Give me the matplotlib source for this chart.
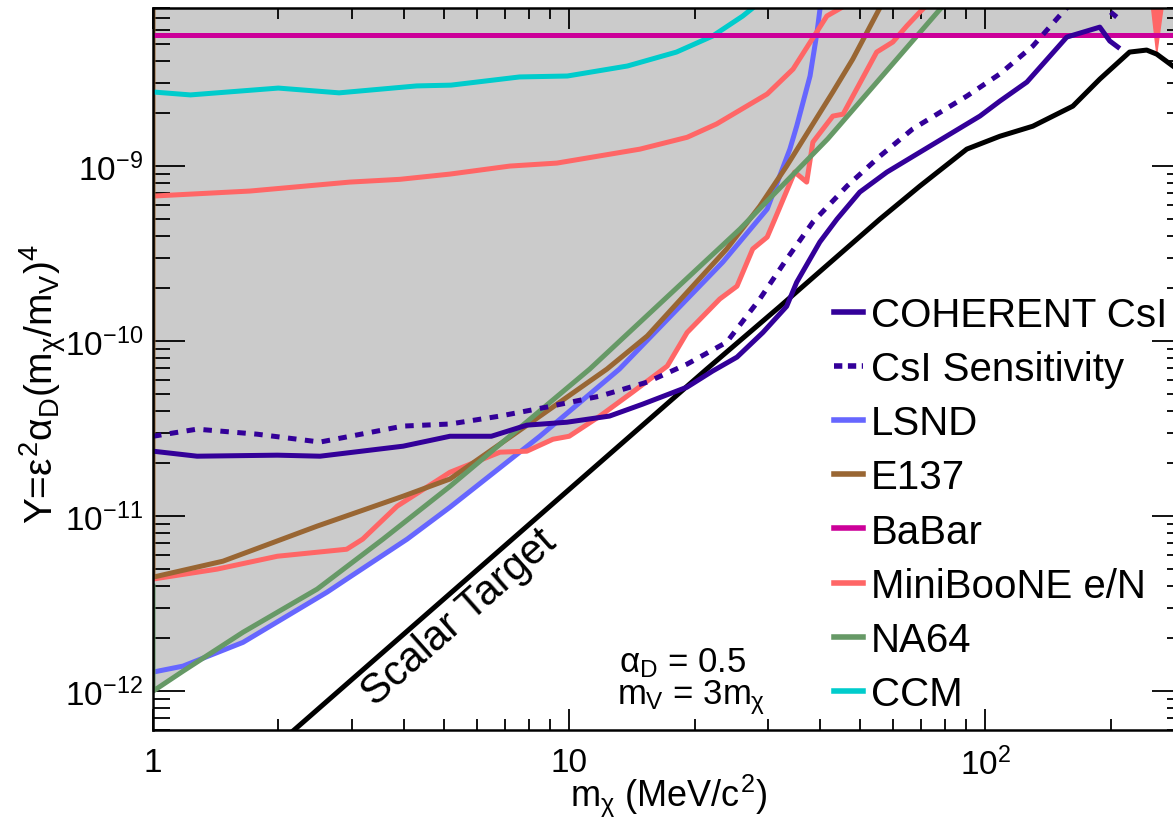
import numpy as np
import matplotlib.pyplot as plt
from matplotlib.lines import Line2D
from matplotlib.ticker import NullFormatter

plt.rcParams['font.family'] = 'Liberation Sans'
plt.rcParams['mathtext.fontset'] = 'custom'
plt.rcParams['mathtext.rm'] = 'Liberation Sans'
plt.rcParams['mathtext.it'] = 'Liberation Sans'
plt.rcParams['mathtext.sf'] = 'Liberation Sans'
plt.rcParams['mathtext.bf'] = 'Liberation Sans:bold'

# --- data (m_chi in MeV, Y) ---
babar_y = 5.6e-9

ccm_m = [1.0, 1.23, 2.0, 2.8, 4.3, 5.2, 7.6, 9.9, 13.8, 18.1, 22.1, 26.1, 28.5]
ccm_y = [2.65e-9, 2.55e-9, 2.79e-9, 2.62e-9, 2.87e-9, 2.9e-9, 3.23e-9, 3.27e-9,
         3.73e-9, 4.48e-9, 5.53e-9, 7.19e-9, 8.5e-9]

mbe_m = [1.0, 1.71, 2.97, 3.92, 5.17, 7.2, 9.34, 14.8, 19.2, 22.6, 29.9, 34.5, 41.6, 47.0]
mbe_y = [6.74e-10, 7.2e-10, 8.1e-10, 8.4e-10, 9.0e-10, 1.0e-9, 1.04e-9, 1.25e-9,
         1.46e-9, 1.74e-9, 2.58e-9, 3.58e-9, 7.2e-9, 8.5e-9]

mbn_m = [1.0, 1.425, 1.99, 2.92, 3.19, 3.86, 5.17, 6.82, 7.91, 9.14, 10.0, 11.85,
         14.2, 17.2, 19.2, 23.0, 25.3, 27.6, 29.9, 31.2, 34.8, 37.2, 38.5, 43.0,
         45.5, 54.8, 59.9, 64.7, 69.6, 73.0]
mbn_y = [4.37e-12, 4.98e-12, 5.9e-12, 6.47e-12, 7.39e-12, 1.14e-11, 1.78e-11,
         2.32e-11, 2.35e-11, 2.75e-11, 2.86e-11, 3.73e-11, 5.11e-11, 7.2e-11,
         1.12e-10, 1.74e-10, 2.06e-10, 3.36e-10, 3.93e-10, 4.98e-10, 9.24e-10,
         8.1e-10, 1.37e-9, 1.93e-9, 1.98e-9, 4.48e-9, 5.11e-9, 6.31e-9, 7.59e-9, 8.5e-9]

mb_spike_m = [250, 258, 268]
mb_spike_y = [8.5e-9, 4.4e-9, 8.5e-9]

lsnd_m = [1.0, 1.18, 1.645, 2.62, 2.92, 4.08, 5.17, 8.5, 13.2, 23.4, 29.9, 33.9,
          35.2, 37.9, 39.4, 40.2]
lsnd_y = [1.285e-12, 1.39e-12, 1.9e-12, 3.68e-12, 4.37e-12, 7.39e-12, 1.125e-11,
          2.86e-11, 6.92e-11, 2.83e-10, 5.68e-10, 1.25e-9, 1.69e-9, 3.27e-9,
          5.83e-9, 8.5e-9]

e137_m = [1.0, 1.0, 1.473, 2.48, 3.99, 5.17, 8.05, 12.32, 15.4, 23.9, 28.7, 33.3,
          43.0, 48.0, 56.5]
e137_y = [8.5e-9, 4.48e-12, 5.53e-12, 8.77e-12, 1.3e-11, 1.63e-11, 3.4e-11,
          6.92e-11, 1.07e-10, 3.36e-10, 5.9e-10, 1.0e-9, 2.65e-9, 4.08e-9, 8.5e-9]

na64_m = [1.0, 1.0, 1.18, 1.645, 2.48, 3.57, 5.17, 11.2, 25.7, 41.8, 80.0]
na64_y = [3.98e-12, 1.0e-12, 1.3e-12, 2.17e-12, 3.83e-12, 7.39e-12, 1.48e-11,
          6.92e-11, 4.36e-10, 1.43e-9, 8.5e-9]

csi_m = [1.0, 1.276, 1.99, 2.52, 3.99, 5.17, 6.5, 7.91, 9.87, 12.5, 15.0, 19.2,
         22.1, 25.3, 29.2, 33.3, 35.2, 40.0, 44.0, 49.9, 58.0, 69.6, 97.0, 108.3,
         125.8, 156.9, 188.3, 199.0, 208.0]
csi_y = [2.35e-11, 2.2e-11, 2.23e-11, 2.2e-11, 2.51e-11, 2.86e-11, 2.86e-11,
         3.31e-11, 3.44e-11, 3.73e-11, 4.36e-11, 5.46e-11, 6.74e-11, 8.1e-11,
         1.12e-10, 1.58e-10, 2.17e-10, 3.68e-10, 4.98e-10, 7.1e-10, 9.24e-10,
         1.2e-9, 1.93e-9, 2.35e-9, 3.02e-9, 5.46e-9, 6.22e-9, 5.18e-9, 4.79e-9]

sens_m = [1.0, 1.276, 1.777, 2.52, 3.99, 5.17, 6.82, 8.84, 11.85, 15.4, 19.2, 23.9,
          28.7, 33.3, 38.5, 46.5, 55.8, 66.9, 90.2, 108.3, 130.0, 153.5, 178.0,
          195.7, 206.8]
sens_y = [2.86e-11, 3.14e-11, 2.94e-11, 2.65e-11, 3.27e-11, 3.36e-11, 3.73e-11,
          4.2e-11, 4.85e-11, 5.83e-11, 7.39e-11, 9.86e-11, 1.74e-10, 2.94e-10,
          4.79e-10, 7.69e-10, 1.14e-9, 1.63e-9, 2.51e-9, 3.36e-9, 4.85e-9, 7.59e-9,
          1.1e-8, 7.9e-9, 7.1e-9]

scalar_m = [2.0, 21.4, 32.1, 55.8, 69.6, 90.2, 108.3, 130.0, 162.2, 188.3, 222.0,
            244.0, 258.0, 282.0, 300.0]
scalar_y = [5.0e-13, 6.92e-11, 1.58e-10, 4.98e-10, 7.69e-10, 1.25e-9, 1.48e-9,
            1.69e-9, 2.2e-9, 3.14e-9, 4.48e-9, 4.6e-9, 4.36e-9, 3.73e-9, 3.36e-9]

c_csi = '#330099'
c_lsnd = '#6666ff'
c_e137 = '#996633'
c_babar = '#cc0099'
c_mb = '#ff6666'
c_na64 = '#669966'
c_ccm = '#00cccc'

fig = plt.figure(figsize=(11.73, 8.2), dpi=100)
ax = fig.add_axes([153 / 1173, 89 / 820, 1031 / 1173, 722 / 820])
ax.set_xscale('log')
ax.set_yscale('log')
ax.set_xlim(1, 300)
ax.set_ylim(6e-13, 8e-9)

# excluded region = everything above the lowest existing limit
grid = np.logspace(0, np.log10(300), 3000)
env = np.full_like(grid, babar_y)
for mm, yy in [(ccm_m, ccm_y), (mbe_m, mbe_y), (mbn_m, mbn_y), (lsnd_m, lsnd_y),
               (e137_m[1:], e137_y[1:]), (na64_m[1:], na64_y[1:])]:
    inside = (grid >= mm[0]) & (grid <= mm[-1])
    vals = 10 ** np.interp(np.log10(grid), np.log10(mm), np.log10(yy))
    env = np.where(inside, np.minimum(env, vals), env)
ax.fill_between(grid, env, 1e-7, color='#cbcbcb', lw=0, zorder=1)

lw = 3.6
ax.plot(lsnd_m, lsnd_y, color=c_lsnd, lw=lw, zorder=3)
ax.plot(mbe_m, mbe_y, color=c_mb, lw=lw, zorder=3)
ax.plot(mbn_m, mbn_y, color=c_mb, lw=lw, zorder=3)
ax.fill(mb_spike_m, mb_spike_y, color=c_mb, lw=1, zorder=3)
ax.plot(e137_m, e137_y, color=c_e137, lw=lw, zorder=3)
ax.plot(na64_m, na64_y, color=c_na64, lw=lw, zorder=3)
ax.plot(ccm_m, ccm_y, color=c_ccm, lw=lw, zorder=3)
ax.axhline(babar_y, color=c_babar, lw=lw, zorder=3)
ax.plot(scalar_m, scalar_y, color='black', lw=lw, zorder=4)
ax.plot(sens_m, sens_y, color=c_csi, lw=lw, dashes=(1.7, 1.7), zorder=4)
ax.plot(csi_m, csi_y, color=c_csi, lw=lw, zorder=4)

ax.text(5.45, 2.65e-12, 'Scalar Target', fontsize=30, rotation=41.5,
        rotation_mode='anchor', ha='center', va='center', zorder=5)
ax.text(0.452, 0.094, r'$\alpha_{D}$ = 0.5', transform=ax.transAxes,
        fontsize=25, va='center', ha='left')
ax.text(0.450, 0.046, r'$m_{V}$ = 3$m_{\chi}$', transform=ax.transAxes,
        fontsize=25, va='center', ha='left')

handles = [
    Line2D([], [], color=c_csi, lw=4),
    Line2D([], [], color=c_csi, lw=4, dashes=(1.5, 1.0)),
    Line2D([], [], color=c_lsnd, lw=4),
    Line2D([], [], color=c_e137, lw=4),
    Line2D([], [], color=c_babar, lw=4),
    Line2D([], [], color=c_mb, lw=4),
    Line2D([], [], color=c_na64, lw=4),
    Line2D([], [], color=c_ccm, lw=4),
]
labels = ['COHERENT CsI', 'CsI Sensitivity', 'LSND', 'E137', 'BaBar',
          'MiniBooNE e/N', 'NA64', 'CCM']
ax.legend(handles, labels, loc='upper left', bbox_to_anchor=(0.6605, 0.601),
          frameon=False, fontsize=29, handlelength=0.72, handletextpad=0.2,
          labelspacing=0.4, borderpad=0, borderaxespad=0)

ax.set_xticks([1, 10, 100])
ax.set_xticklabels(['1', '10', '$10^{2}$'])
ax.xaxis.set_minor_formatter(NullFormatter())
ax.yaxis.set_minor_formatter(NullFormatter())
ax.tick_params(axis='x', which='major', direction='in', length=15, width=1.3,
               top=True, labelsize=24, pad=12)
ax.tick_params(axis='x', which='minor', direction='in', length=8, width=1.3, top=True)
ax.tick_params(axis='y', which='major', direction='in', length=23, width=1.3,
               right=True, labelsize=24, pad=7)
ax.tick_params(axis='y', which='minor', direction='in', length=12, width=1.3, right=True)
for s in ax.spines.values():
    s.set_linewidth(1.8)
    s.set_zorder(6)

ax.set_xlabel(r'$m_{\chi}$ (MeV/$c^{2}$)', fontsize=26)
ax.xaxis.set_label_coords(0.5, -0.057)
ax.set_ylabel(r'Y=$\varepsilon^{2}\alpha_{D}(m_{\chi}/m_{V})^{4}$', fontsize=28)
ax.yaxis.set_label_coords(-0.082, 0.48)

fig.savefig('out.png', dpi=100)
